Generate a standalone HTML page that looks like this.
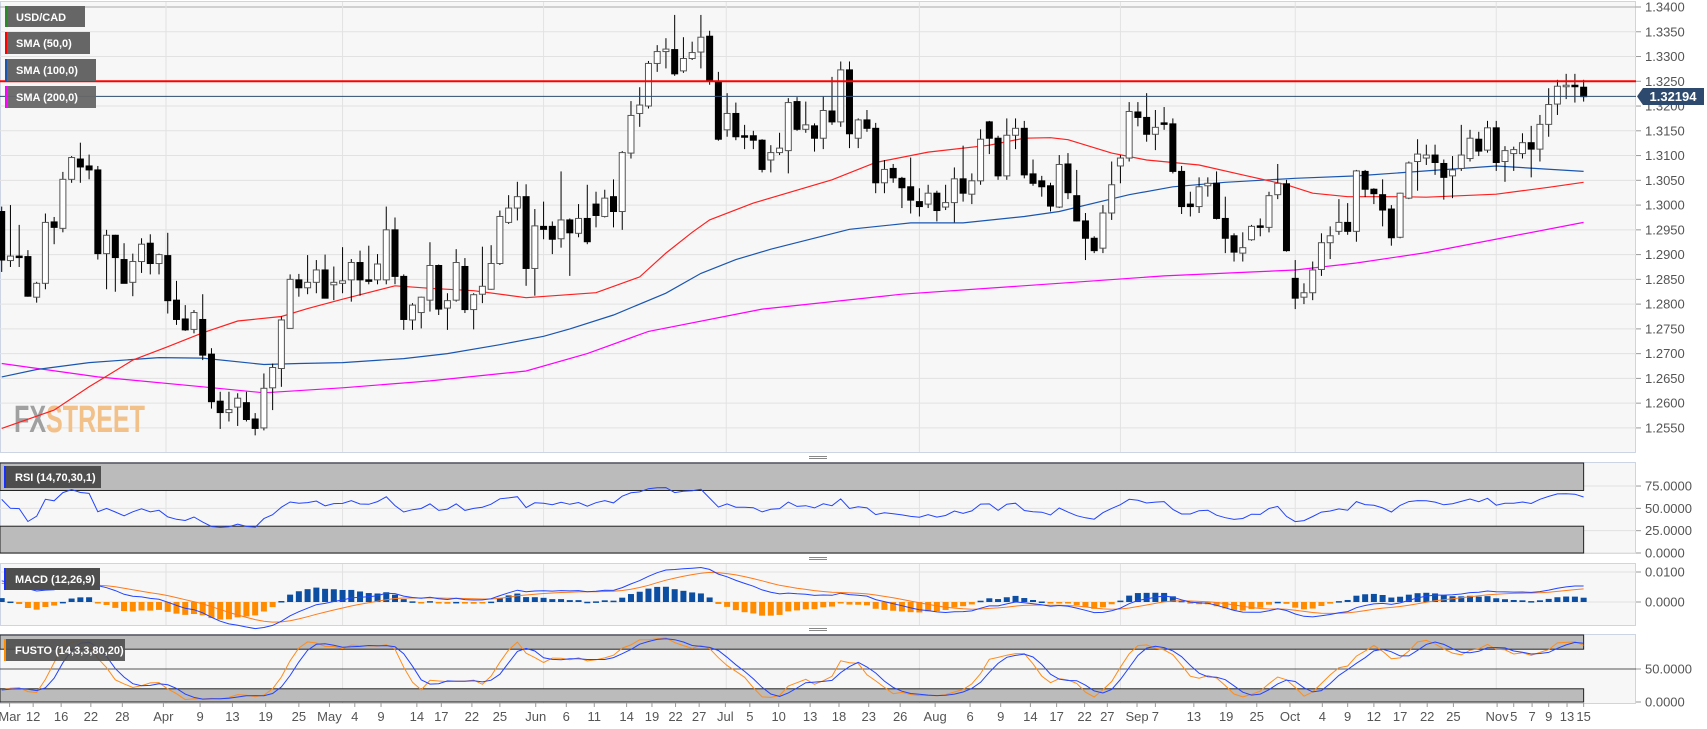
<!DOCTYPE html>
<html><head><meta charset="utf-8"><style>
html,body{margin:0;padding:0;background:#fff;}
svg{display:block;font-family:"Liberation Sans",sans-serif;}
</style></head><body>
<svg id="chart" width="1707" height="729" viewBox="0 0 1707 729" xmlns="http://www.w3.org/2000/svg">
<rect x="0" y="0" width="1707" height="729" fill="#ffffff"/>
<rect x="0.5" y="1.5" width="1635" height="451" fill="#f7f7f7" stroke="#cdd4e4"/>
<rect x="0.5" y="462.5" width="1635" height="91" fill="#f7f7f7" stroke="#cdd4e4"/>
<rect x="0.5" y="563.5" width="1635" height="62" fill="#f7f7f7" stroke="#cdd4e4"/>
<rect x="0.5" y="634.5" width="1635" height="69" fill="#f7f7f7" stroke="#cdd4e4"/>
<g id="grid"></g>
<g id="bands"></g>
<text x="14" y="432" font-size="38" font-weight="bold" transform="translate(14 0) scale(0.66 1) translate(-14 0)"><tspan fill="#a0a0a0">FX</tspan><tspan fill="#f2c089">STREET</tspan></text>
<g id="mas"></g>
<g id="candles"></g>
<g id="ind"></g>
<line x1="0" y1="81.3" x2="1636" y2="81.3" stroke="#ff0000" stroke-width="2"/>
<line x1="0" y1="96.4" x2="1636" y2="96.4" stroke="#2d4a6e" stroke-width="1"/>
<g id="axes"></g>
<g>
<path d="M1637 96.4 L1643 88 L1704 88 L1704 105 L1643 105 Z" fill="#2d4a6e"/>
<text x="1673" y="101" font-size="13" font-weight="bold" fill="#fff" text-anchor="middle">1.32194</text>
</g>
<g><rect x="5" y="6" width="80" height="21" fill="#666"/><rect x="5" y="6" width="2" height="21" fill="#2a8a2a"/><text x="16" y="21" font-size="11" font-weight="bold" fill="#fff">USD/CAD</text></g>
<g><rect x="5" y="32" width="85" height="22" fill="#666"/><rect x="5" y="32" width="2" height="22" fill="#ff0000"/><text x="16" y="47" font-size="11" font-weight="bold" fill="#fff">SMA (50,0)</text></g>
<g><rect x="5" y="59" width="91" height="22" fill="#666"/><rect x="5" y="59" width="2" height="22" fill="#1a56b0"/><text x="16" y="74" font-size="11" font-weight="bold" fill="#fff">SMA (100,0)</text></g>
<g><rect x="5" y="86" width="91" height="22" fill="#666" fill-opacity="0.95"/><rect x="5" y="86" width="2" height="22" fill="#ff00ff"/><text x="16" y="101" font-size="11" font-weight="bold" fill="#fff">SMA (200,0)</text></g>
<g><rect x="4" y="466" width="97" height="22" fill="#4e4e4e"/><rect x="4" y="466" width="2" height="22" fill="#1530ff"/><text x="15" y="481" font-size="11" font-weight="bold" fill="#fff">RSI (14,70,30,1)</text></g>
<g><rect x="4" y="568" width="96" height="22" fill="#4e4e4e"/><rect x="4" y="568" width="2" height="22" fill="#1530ff"/><text x="15" y="583" font-size="11" font-weight="bold" fill="#fff">MACD (12,26,9)</text></g>
<g><rect x="4" y="639" width="121" height="22" fill="#4e4e4e" fill-opacity="0.9"/><rect x="4" y="639" width="2" height="22" fill="#ff8c00"/><text x="15" y="654" font-size="11" font-weight="bold" fill="#fff">FUSTO (14,3,3,80,20)</text></g>
<g><line x1="809" y1="456.5" x2="827" y2="456.5" stroke="#888"/><line x1="809" y1="458.5" x2="827" y2="458.5" stroke="#888"/></g>
<g><line x1="809" y1="557.5" x2="827" y2="557.5" stroke="#888"/><line x1="809" y1="559.5" x2="827" y2="559.5" stroke="#888"/></g>
<g><line x1="809" y1="628.5" x2="827" y2="628.5" stroke="#888"/><line x1="809" y1="630.5" x2="827" y2="630.5" stroke="#888"/></g>
</svg>
<script>
const opens=[1.2987,1.2888,1.2897,1.2896,1.2814,1.2842,1.2966,1.2953,1.3052,1.3093,1.3079,1.3071,1.2902,1.2939,1.2890,1.2844,1.2886,1.2923,1.2882,1.2898,1.2808,1.2770,1.2749,1.2769,1.2699,1.2604,1.2581,1.2592,1.2601,1.2568,1.2550,1.2631,1.2670,1.2751,1.2849,1.2833,1.2844,1.2869,1.2839,1.2842,1.2849,1.2884,1.2849,1.2849,1.2849,1.2950,1.2856,1.2768,1.2783,1.2808,1.2878,1.2792,1.2808,1.2876,1.2789,1.2820,1.2830,1.2882,1.2965,1.2994,1.3017,1.2872,1.2957,1.2957,1.2932,1.2970,1.2943,1.2973,1.3002,1.2977,1.3017,1.2987,1.3105,1.3185,1.3200,1.3286,1.3310,1.3314,1.3271,1.3296,1.3309,1.3341,1.3250,1.3152,1.3185,1.3140,1.3140,1.3131,1.3091,1.3106,1.3110,1.3209,1.3153,1.3160,1.3135,1.3190,1.3168,1.3273,1.3135,1.3172,1.3155,1.3045,1.3074,1.3054,1.3037,1.3007,1.3002,1.3024,1.2996,1.3005,1.3053,1.3022,1.3049,1.3168,1.3135,1.3059,1.3141,1.3155,1.3063,1.3049,1.3039,1.2996,1.3083,1.3019,1.2968,1.2933,1.2913,1.2984,1.3079,1.3095,1.3188,1.3177,1.3143,1.3166,1.3164,1.3068,1.3002,1.2997,1.3039,1.3044,1.2973,1.2938,1.2903,1.2930,1.2958,1.2955,1.3021,1.3043,1.2852,1.2814,1.2823,1.2870,1.2924,1.2947,1.2965,1.2947,1.3068,1.3032,1.3021,1.2992,1.2935,1.3014,1.3088,1.3095,1.3101,1.3084,1.3059,1.3074,1.3094,1.3133,1.3111,1.3156,1.3088,1.3104,1.3104,1.3126,1.3113,1.3163,1.3204,1.3240,1.3242,1.3238];
const highs=[1.2997,1.3000,1.2960,1.2909,1.2845,1.2983,1.2976,1.3067,1.3099,1.3126,1.3102,1.3079,1.2950,1.2940,1.2923,1.2902,1.2933,1.2941,1.2902,1.2944,1.2847,1.2798,1.2788,1.2820,1.2711,1.2623,1.2623,1.2620,1.2623,1.2580,1.2660,1.2680,1.2775,1.2860,1.2861,1.2899,1.2889,1.2900,1.2876,1.2915,1.2891,1.2908,1.2918,1.2901,1.2997,1.2975,1.2860,1.2802,1.2815,1.2925,1.2880,1.2822,1.2911,1.2893,1.2822,1.2916,1.2919,1.2989,1.3020,1.3047,1.3042,1.2992,1.3007,1.2967,1.3068,1.2973,1.3002,1.3041,1.3027,1.3031,1.3052,1.3109,1.3210,1.3238,1.3291,1.3323,1.3337,1.3384,1.3339,1.3330,1.3384,1.3352,1.3269,1.3226,1.3207,1.3162,1.3150,1.3133,1.3121,1.3146,1.3216,1.3218,1.3209,1.3165,1.3219,1.3259,1.3290,1.3290,1.3175,1.3192,1.3166,1.3091,1.3083,1.3057,1.3096,1.3034,1.3041,1.3029,1.3041,1.3076,1.3120,1.3064,1.3153,1.3170,1.3140,1.3175,1.3175,1.3170,1.3092,1.3059,1.3045,1.3101,1.3105,1.3071,1.2984,1.2937,1.3000,1.3088,1.3101,1.3208,1.3208,1.3226,1.3192,1.3198,1.3175,1.3079,1.3027,1.3056,1.3056,1.3068,1.3017,1.2943,1.2945,1.2960,1.2973,1.3027,1.3083,1.3051,1.2889,1.2842,1.2886,1.2943,1.2957,1.3012,1.3004,1.3071,1.3071,1.3034,1.3052,1.3000,1.3025,1.3088,1.3133,1.3122,1.3122,1.3092,1.3099,1.3162,1.3152,1.3148,1.3170,1.3170,1.3119,1.3118,1.3145,1.3160,1.3182,1.3236,1.3253,1.3265,1.3265,1.3253];
const lows=[1.2865,1.2875,1.2875,1.2815,1.2803,1.2830,1.2921,1.2945,1.3045,1.3045,1.3052,1.2890,1.2830,1.2825,1.2842,1.2816,1.2863,1.2860,1.2860,1.2781,1.2758,1.2746,1.2741,1.2687,1.2589,1.2548,1.2563,1.2554,1.2563,1.2535,1.2545,1.2586,1.2633,1.2751,1.2815,1.2820,1.2822,1.2812,1.2808,1.2822,1.2805,1.2817,1.2840,1.2840,1.2840,1.2840,1.2748,1.2748,1.2751,1.2785,1.2778,1.2748,1.2805,1.2782,1.2749,1.2802,1.2829,1.2879,1.2962,1.2969,1.2837,1.2817,1.2931,1.2901,1.2914,1.2857,1.2935,1.2921,1.2955,1.2975,1.2955,1.2950,1.3094,1.3158,1.3195,1.3269,1.3276,1.3261,1.3267,1.3293,1.3276,1.3243,1.3130,1.3138,1.3131,1.3113,1.3113,1.3066,1.3066,1.3101,1.3064,1.3150,1.3146,1.3108,1.3113,1.3162,1.3158,1.3115,1.3115,1.3148,1.3024,1.3024,1.3045,1.2994,1.2983,1.2977,1.2994,1.2967,1.2990,1.2965,1.3007,1.3002,1.3041,1.3103,1.3051,1.3051,1.3113,1.3054,1.3039,1.3017,1.2987,1.2994,1.3012,1.2967,1.2889,1.2903,1.2903,1.2970,1.3044,1.3088,1.3159,1.3128,1.3111,1.3152,1.3064,1.2982,1.2977,1.2984,1.3017,1.2971,1.2903,1.2886,1.2886,1.2928,1.2937,1.2945,1.3012,1.2906,1.2790,1.2800,1.2808,1.2857,1.2891,1.2940,1.2940,1.2926,1.3016,1.3002,1.2957,1.2918,1.2933,1.3012,1.3029,1.3081,1.3061,1.3011,1.3014,1.3069,1.3088,1.3099,1.3106,1.3069,1.3047,1.3069,1.3094,1.3056,1.3088,1.3138,1.3182,1.3214,1.3207,1.3209];
const closes=[1.2889,1.2897,1.2896,1.2816,1.2842,1.2965,1.2955,1.3052,1.3096,1.3077,1.3071,1.2902,1.2939,1.2894,1.2842,1.2886,1.2921,1.2882,1.2900,1.2807,1.2769,1.2748,1.2783,1.2697,1.2603,1.2581,1.2587,1.2610,1.2567,1.2549,1.2630,1.2672,1.2768,1.2850,1.2833,1.2844,1.2869,1.2812,1.2844,1.2847,1.2884,1.2849,1.2846,1.2881,1.2950,1.2856,1.2769,1.2798,1.2814,1.2878,1.2790,1.2807,1.2884,1.2789,1.2819,1.2836,1.2882,1.2977,1.2994,1.3017,1.2872,1.2958,1.2951,1.2931,1.2970,1.2944,1.2973,1.2926,1.2979,1.3014,1.2987,1.3106,1.3181,1.3202,1.3286,1.3310,1.3315,1.3265,1.3296,1.3308,1.3339,1.3250,1.3133,1.3185,1.3138,1.3137,1.3131,1.3072,1.3106,1.3115,1.3207,1.3153,1.3162,1.3135,1.3191,1.3168,1.3273,1.3144,1.3172,1.3155,1.3045,1.3072,1.3055,1.3035,1.3010,1.2997,1.3024,1.2989,1.3005,1.3053,1.3024,1.3049,1.3133,1.3135,1.3059,1.3141,1.3155,1.3061,1.3044,1.3037,1.2998,1.3082,1.3025,1.2968,1.2933,1.2908,1.2984,1.3041,1.3095,1.3189,1.3177,1.3143,1.3157,1.3165,1.3068,1.2997,1.2997,1.3037,1.3044,1.2973,1.2933,1.2905,1.2914,1.2957,1.2955,1.3019,1.3044,1.2908,1.2812,1.2823,1.2869,1.2924,1.2938,1.2965,1.2947,1.3069,1.3032,1.3023,1.2990,1.2934,1.3024,1.3085,1.3103,1.3101,1.3086,1.3056,1.3071,1.3101,1.3135,1.3109,1.3156,1.3086,1.3110,1.3112,1.3126,1.3113,1.3163,1.3203,1.3240,1.3242,1.3239,1.3219];
const sma50Idx=[0,6,10,15,19,23,27,32,35,39,45,49,54,60,64,68,73,76,79,81,86,95,100,106,113,117,120,122,127,131,137,142,147,150,154,160,163,171,177,181];
const sma50Val=[1.2549,1.2586,1.2633,1.2687,1.2714,1.2742,1.2766,1.2775,1.2791,1.2810,1.2837,1.2832,1.2827,1.2813,1.2818,1.2823,1.2855,1.2903,1.2945,1.2970,1.3004,1.3051,1.3086,1.3107,1.3121,1.3135,1.3136,1.3132,1.3105,1.3091,1.3081,1.3061,1.3041,1.3024,1.3017,1.3017,1.3016,1.3022,1.3036,1.3046];
const sma100Idx=[0,4,10,18,23,30,34,39,46,51,57,62,65,70,76,80,84,88,97,104,110,117,121,129,134,140,148,155,163,171,181];
const sma100Val=[1.2653,1.2668,1.2682,1.2692,1.2691,1.2678,1.2680,1.2682,1.2690,1.2700,1.2718,1.2735,1.2750,1.2778,1.2822,1.2862,1.2890,1.2911,1.2951,1.2964,1.2964,1.2977,1.2987,1.3021,1.3037,1.3046,1.3054,1.3059,1.3069,1.3079,1.3068];
const sma200Idx=[0,11,23,30,39,49,60,67,74,87,103,121,133,148,155,163,181];
const sma200Val=[1.2680,1.2653,1.2633,1.2621,1.2631,1.2645,1.2665,1.2700,1.2745,1.2790,1.2820,1.2842,1.2857,1.2869,1.2883,1.2904,1.2965];
const priceTicks=[1.2550,1.2600,1.2650,1.2700,1.2750,1.2800,1.2850,1.2900,1.2950,1.3000,1.3050,1.3100,1.3150,1.3200,1.3250,1.3300,1.3350,1.3400];
const rsiTicks=[0,25,50,75];
const macdTicks=[0,0.01];
const fustoTicks=[0,50];
const dateLabels=["Mar","12","16","22","28","Apr","9","13","19","25","May","4","9","14","17","22","25","Jun","6","11","14","19","22","27","Jul","5","10","13","18","23","26","Aug","6","9","14","17","22","27","Sep","7","13","19","25","Oct","4","9","12","17","22","25","Nov","5","7","9","13","15"];
const dateIdx=[0.9,3.6,6.8,10.2,13.8,18.5,22.7,26.4,30.2,34,37.5,40.4,43.4,47.5,50.3,53.8,57,61.1,64.6,67.8,71.5,74.4,77.1,79.8,82.8,85.6,88.9,92.5,95.8,99.2,102.8,106.8,110.8,114.3,117.7,120.7,123.9,126.5,129.9,132,136.4,140.1,143.6,147.4,151.1,154,157,160,163.1,166.1,171.1,173,175.1,177,179.1,181];
const monthIdx=[18.8,39,62,82.9,105,128,148,171];
const ema12Seed=1.2930, ema26Seed=1.2850, signalSeed=0.0060;

const NS="http://www.w3.org/2000/svg";
function mk(parent,tag,attrs,txt){const e=document.createElementNS(NS,tag);for(const k in attrs)e.setAttribute(k,attrs[k]);if(txt!==undefined)e.textContent=txt;parent.appendChild(e);return e;}
const xOf=i=>1.7+i*8.74;
const yP=p=>7+(1.34-p)*4952;
const yR=v=>553-v*0.893;
const yM=v=>602-v*3000;
const yF=v=>702-v*0.66;
const grid=document.getElementById('grid'),bands=document.getElementById('bands'),mas=document.getElementById('mas'),cg=document.getElementById('candles'),ind=document.getElementById('ind'),axes=document.getElementById('axes');

priceTicks.forEach((p,k)=>{
  const y=yP(p);
  const l=mk(grid,'line',{x1:0,x2:1636,y1:y,y2:y,stroke:k===priceTicks.length-1?'#aaaaaa':'#e2e2e2'});
  
  
  const t=mk(axes,'line',{x1:1636,x2:1641,y1:y,y2:y,stroke:'#999'});
  
  
  const tx=mk(axes,'text',{x:1645,y:y+4.5,'font-size':13,fill:'#555'},p.toFixed(4));
  
  
});
monthIdx.forEach(m=>{
  [[2,452],[463,553],[564,625],[635,703]].forEach(r=>{
    const l=mk(grid,'line',{x1:xOf(m),x2:xOf(m),y1:r[0],y2:r[1],stroke:'#e2e2e2'});
    
    
  });
});
rsiTicks.forEach(v=>{
  const l=mk(grid,'line',{x1:0,x2:1636,y1:yR(v),y2:yR(v),stroke:'#e2e2e2'});
  
  
  const tk=mk(axes,'line',{x1:1636,x2:1641,y1:yR(v),y2:yR(v),stroke:'#999'});
  
  
  const t=mk(axes,'text',{x:1645,y:yR(v)+4.5,'font-size':13,fill:'#555'},v.toFixed(4));
  
  
});
const xEnd=xOf(181);
function band(y1,y2,name){
  const r=mk(bands,'rect',{x:0,y:y1,width:xEnd,height:y2-y1,fill:'#bbbbbb',stroke:'#222','stroke-width':1});
  
  
}
band(463,yR(70),'rsi-overbought-band');
band(yR(30),553,'rsi-oversold-band');
macdTicks.forEach(v=>{
  const l=mk(grid,'line',{x1:0,x2:1636,y1:yM(v),y2:yM(v),stroke:'#e2e2e2'});
  
  
  const tk=mk(axes,'line',{x1:1636,x2:1641,y1:yM(v),y2:yM(v),stroke:'#999'});
  
  
  const t=mk(axes,'text',{x:1645,y:yM(v)+4.5,'font-size':13,fill:'#555'},v.toFixed(4));
  
  
});
band(635,yF(80),'fusto-overbought-band');
band(yF(20),702,'fusto-oversold-band');
const mid=mk(bands,'line',{x1:0,x2:1636,y1:yF(50),y2:yF(50),stroke:'#555'});


fustoTicks.forEach(v=>{
  const tk=mk(axes,'line',{x1:1636,x2:1641,y1:yF(v),y2:yF(v),stroke:'#999'});
  
  
  const t=mk(axes,'text',{x:1645,y:yF(v)+4.5,'font-size':13,fill:'#555'},v.toFixed(4));
  
  
});
dateLabels.forEach((d,k)=>{
  const x=xOf(dateIdx[k]);
  const tk=mk(axes,'line',{x1:x,x2:x,y1:703,y2:707,stroke:'#999'});
  
  
  const t=mk(axes,'text',{x:x,y:721,'font-size':13,fill:'#555','text-anchor':'middle'},d);
  
  
});
function maLine(idx,val,color,name){
  const d=idx.map((i,k)=>(k?'L':'M')+xOf(i).toFixed(1)+' '+yP(val[k]).toFixed(1)).join(' ');
  const p=mk(mas,'path',{d:d,fill:'none',stroke:color,'stroke-width':1.2});
  
  
}
maLine(sma200Idx,sma200Val,'#ff00ff','sma-200-line');
maLine(sma100Idx,sma100Val,'#1a56b0','sma-100-line');
maLine(sma50Idx,sma50Val,'#ff2020','sma-50-line');
closes.forEach((c,i)=>{
  const o=opens[i],x=xOf(i);
  const w=mk(cg,'line',{x1:x,x2:x,y1:yP(highs[i]),y2:yP(lows[i]),stroke:'#000','stroke-width':1});
  
  
  const up=c>=o;
  const top=yP(Math.max(o,c)),bot=yP(Math.min(o,c));
  const b=mk(cg,'rect',{x:x-3,y:top,width:6,height:Math.max(1.5,bot-top),fill:up?'#ffffff':'#000000',stroke:up?'#555':'#000','stroke-width':1});
  
  
});
const n=closes.length;
const rsi=[];let ag=0,al=0;
for(let i=0;i<n;i++){
  if(i===0){rsi.push(60);continue;}
  const d=closes[i]-closes[i-1],g=Math.max(d,0),l=Math.max(-d,0);
  if(i===1){ag=g||0.0008;al=l||0.0008;}else{ag=(ag*13+g)/14;al=(al*13+l)/14;}
  rsi.push(100-100/(1+ag/al));
}
const e12=[],e26=[],macd=[],sig=[],hist=[];
for(let i=0;i<n;i++){
  const a=i?e12[i-1]:ema12Seed,b=i?e26[i-1]:ema26Seed;
  e12.push(a+(closes[i]-a)*2/13);e26.push(b+(closes[i]-b)*2/27);
  macd.push(e12[i]-e26[i]);
  const s=i?sig[i-1]:signalSeed;sig.push(s+(macd[i]-s)*0.2);
  hist.push(macd[i]-sig[i]);
}
const fastK=[],slowK=[],slowD=[];
for(let i=0;i<n;i++){
  const s=Math.max(0,i-13);let hh=-1,ll=9;
  for(let j=s;j<=i;j++){hh=Math.max(hh,highs[j]);ll=Math.min(ll,lows[j]);}
  fastK.push(hh>ll?100*(closes[i]-ll)/(hh-ll):50);
}
const avg3=(a,i)=>{const s=Math.max(0,i-2);let t=0;for(let j=s;j<=i;j++)t+=a[j];return t/(i-s+1);};
for(let i=0;i<n;i++)slowK.push(avg3(fastK,i));
for(let i=0;i<n;i++)slowD.push(avg3(slowK,i));
function line(arr,yf,color,name){
  const d=arr.map((v,i)=>(i?'L':'M')+xOf(i).toFixed(1)+' '+yf(v).toFixed(1)).join(' ');
  const p=mk(ind,'path',{d:d,fill:'none',stroke:color,'stroke-width':1});
  
  
}
hist.forEach((h,i)=>{
  const v=h*1.5,y0=yM(0),y1=yM(v);
  const r=mk(ind,'rect',{x:xOf(i)-3,y:Math.min(y0,y1),width:6,height:Math.max(1.5,Math.abs(y1-y0)),fill:h>=0?'#0b4ea2':'#ff8c00'});
  
  
});
line(rsi,yR,'#2244ff','rsi-line');
line(sig,yM,'#ff7a1a','macd-signal-line');
line(macd,yM,'#2244ff','macd-line');
line(slowK,yF,'#ff8c1a','fusto-k-line');
line(slowD,yF,'#2244ff','fusto-d-line');
</script>
</body></html>
